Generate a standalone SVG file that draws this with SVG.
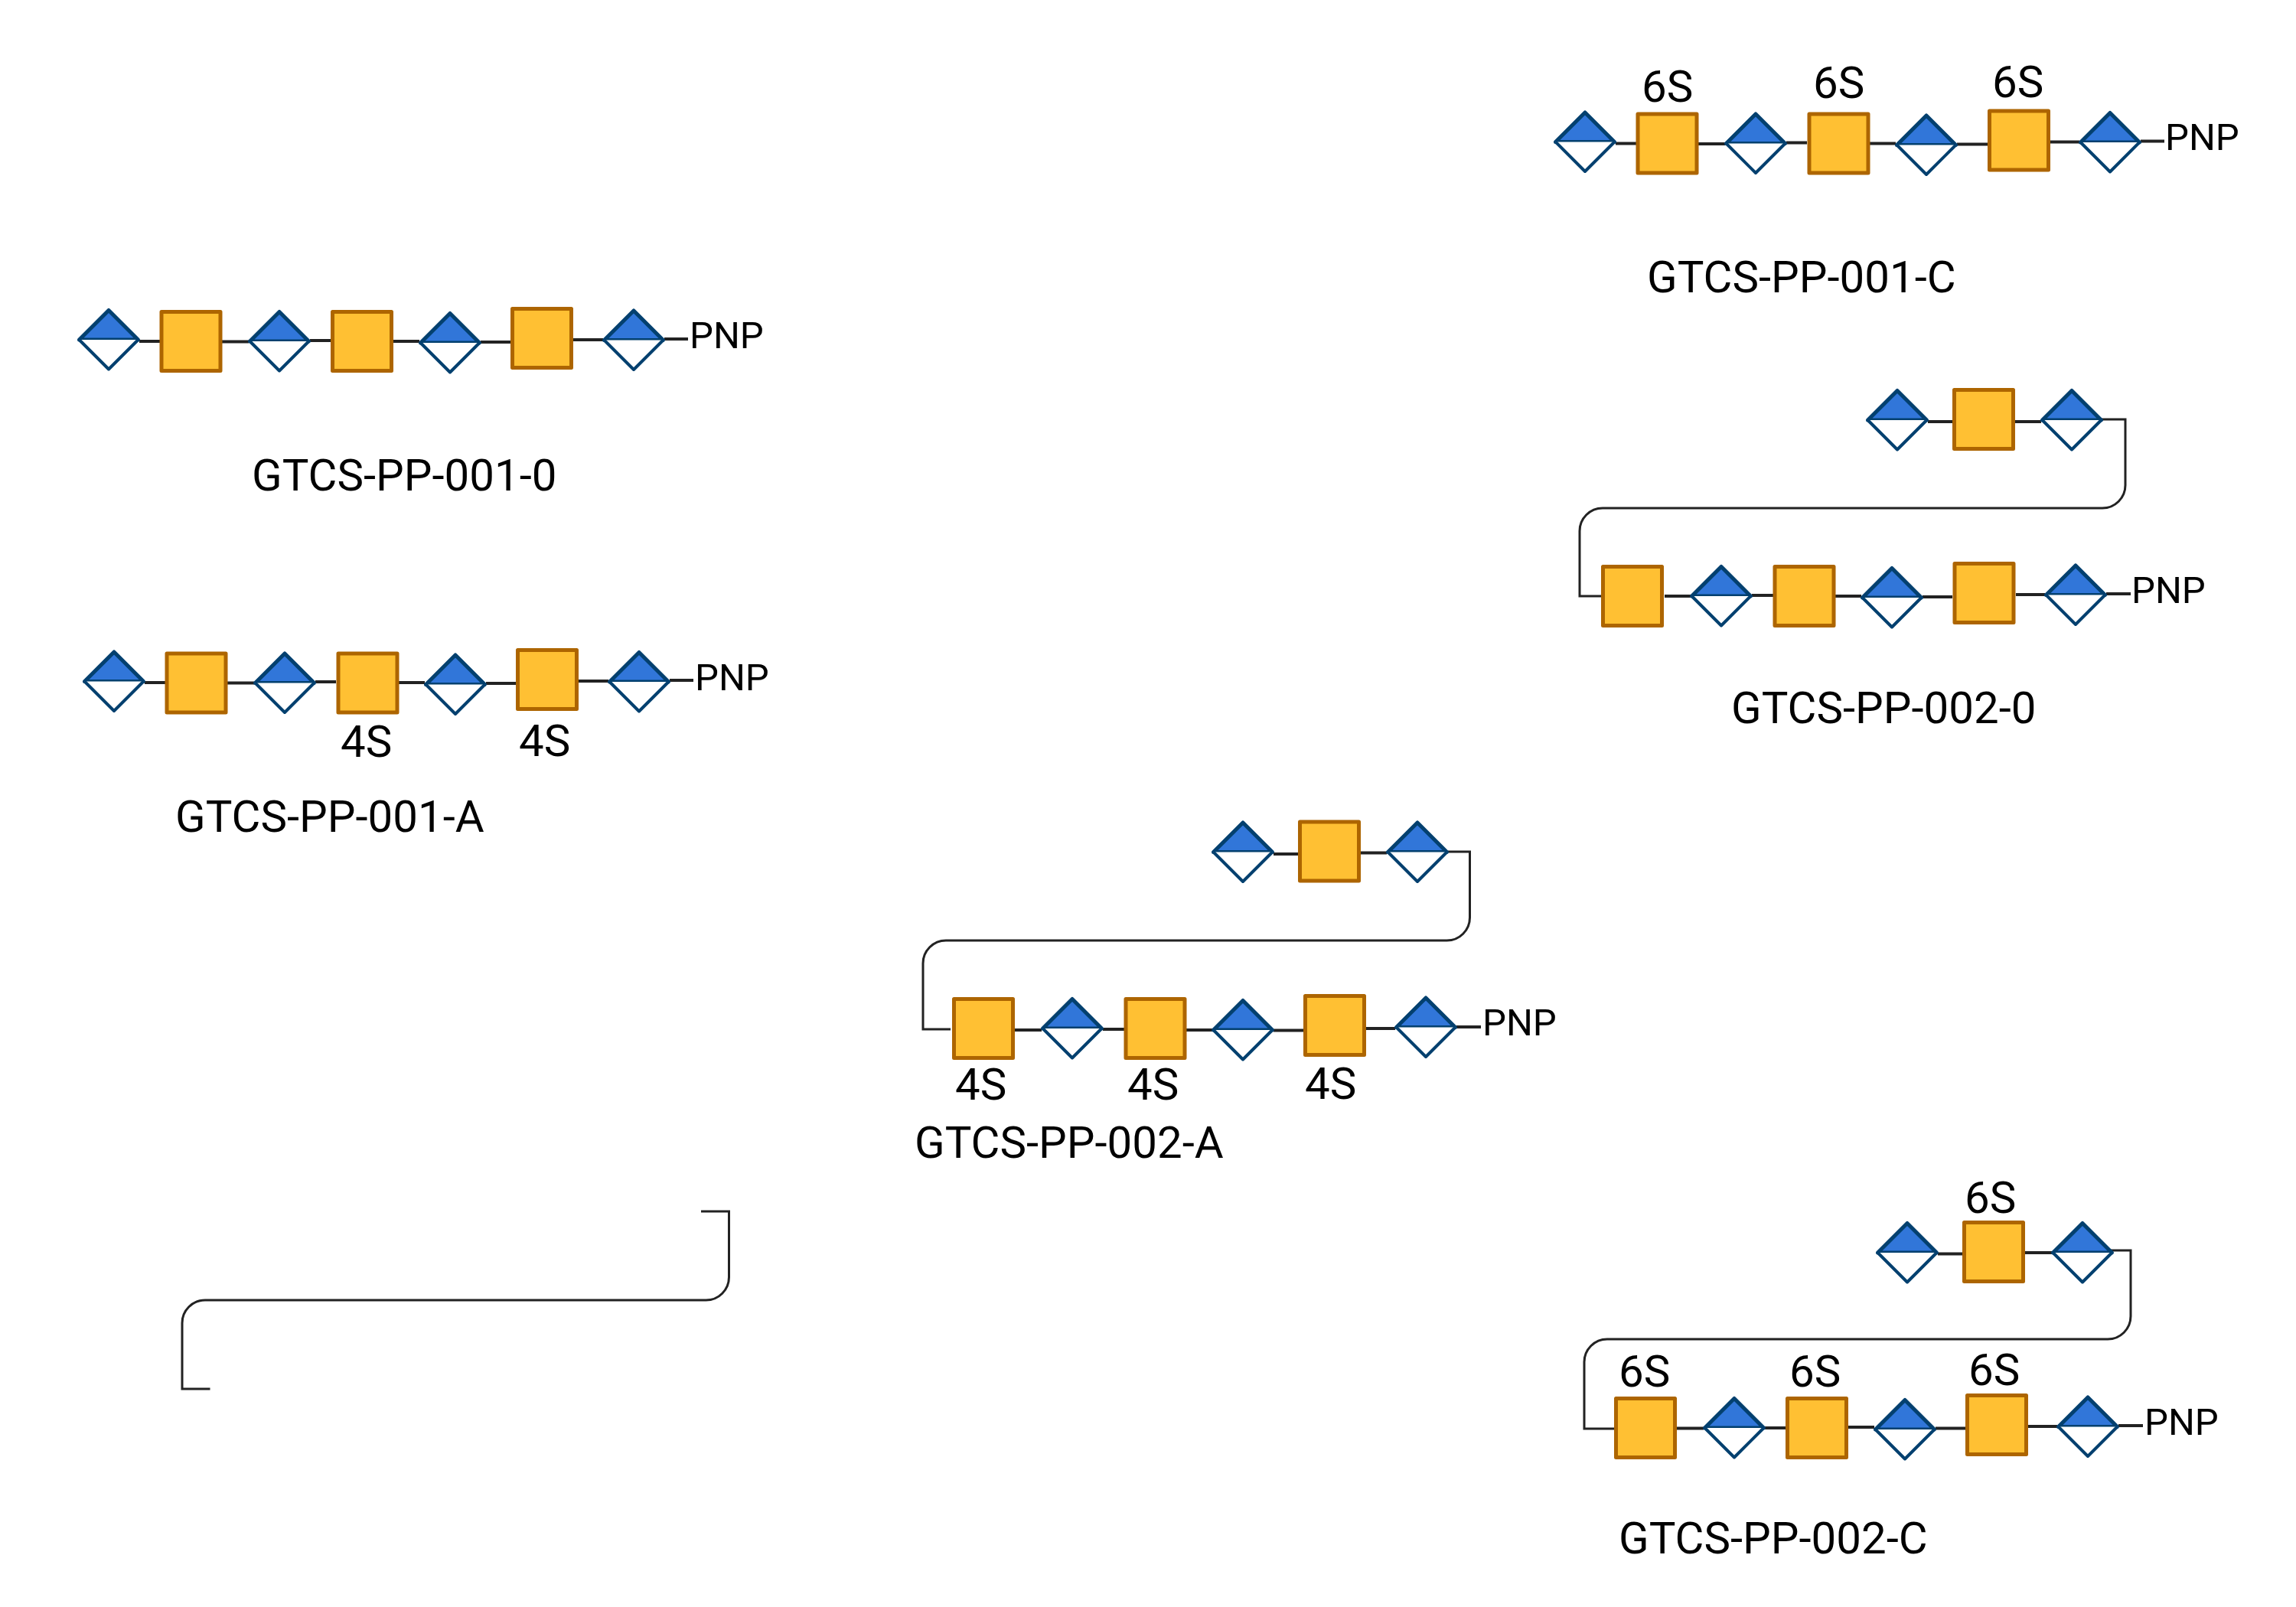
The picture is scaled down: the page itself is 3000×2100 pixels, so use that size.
<svg xmlns="http://www.w3.org/2000/svg" width="3000" height="2100" viewBox="0 0 3000 2100">
<style>
text{font-family:Roboto,"Liberation Sans",sans-serif;font-size:58.2px;fill:#000}
.pnp{font-size:49px}
.c{fill:none;stroke:#222;stroke-width:4}
.b{fill:none;stroke:#222;stroke-width:3}
</style>
<defs>
<g id="dia"><path d="M-38.5 0L0 -38.5L38.5 0Z" fill="#3176D9" stroke="#03406F" stroke-width="5" stroke-linejoin="round"/><path d="M-38.5 0L0 38.5L38.5 0" fill="#fff" stroke="#03406F" stroke-width="4" stroke-linejoin="round"/></g>
<rect id="sq" x="-38.5" y="-38.5" width="77" height="77" fill="#FFC033" stroke="#AD6500" stroke-width="5" stroke-linejoin="round"/>
</defs>
<rect width="3000" height="2100" fill="#fff"/>
<g id="connectors">
<path class="c" d="M182 446H209M290 446.5H325M405 445H432M514 446H548M628 447H667M748 444H788M868 443H899"/>
<path class="c" d="M189 892H216M297 892.5H332M412 891H439M521 892H555M635 893H674M755 890H795M875 889H906"/>
<path class="c" d="M2111 187.5H2138M2219 188H2254M2334 186.5H2361M2443 187.5H2477M2557 188.5H2597M2678 185.5H2717M2797 184.5H2828"/>
<path class="c" d="M2519 551H2551M2633 551H2667M2175 779H2209M2289 778H2317M2398 779H2432M2512 780H2551M2634 777H2672M2752 776H2784"/>
<path class="b" d="M2746 548H2777V634A30 30 0 0 1 2747 664H2094A30 30 0 0 0 2064 694V779H2092"/>
<path class="c" d="M1664 1116H1697M1778 1114.5H1812M1325 1346H1361M1441 1345H1469M1550 1346H1584M1664 1346.5H1703M1785 1344H1823M1903 1342H1935"/>
<path class="b" d="M1892 1113H1920.5V1199A30 30 0 0 1 1890.5 1229H1236A30 30 0 0 0 1206 1259V1345H1242"/>
<path class="c" d="M2532 1638.5H2565M2646 1637H2681M2190 1866.5H2226M2306 1866H2334M2415 1865H2449M2529 1866.5H2569M2650 1864H2688M2768 1863H2800"/>
<path class="b" d="M2749 1634H2784V1720A30 30 0 0 1 2754 1750H2100A30 30 0 0 0 2070 1780V1867H2109"/>
<path class="b" d="M916 1583H952.5V1669A30 30 0 0 1 922.5 1699H268A30 30 0 0 0 238 1729V1815H274.5"/>
</g>
<g id="a1-d1" transform="translate(142 444)"><use href="#dia"/></g>
<g id="a1-s1" transform="translate(249.5 446)"><use href="#sq"/></g>
<g id="a1-d2" transform="translate(365 446)"><use href="#dia"/></g>
<g id="a1-s2" transform="translate(473 446)"><use href="#sq"/></g>
<g id="a1-d3" transform="translate(588 448)"><use href="#dia"/></g>
<g id="a1-s3" transform="translate(708 442)"><use href="#sq"/></g>
<g id="a1-d4" transform="translate(828 444.5)"><use href="#dia"/></g>
<g id="b1-d1" transform="translate(149 890.5)"><use href="#dia"/></g>
<g id="b1-s1" transform="translate(256.5 892.5)"><use href="#sq"/></g>
<g id="b1-d2" transform="translate(372 892.5)"><use href="#dia"/></g>
<g id="b1-s2" transform="translate(480.5 892.5)"><use href="#sq"/></g>
<g id="b1-d3" transform="translate(595 894.5)"><use href="#dia"/></g>
<g id="b1-s3" transform="translate(715 888)"><use href="#sq"/></g>
<g id="b1-d4" transform="translate(835 891)"><use href="#dia"/></g>
<g id="c1-d1" transform="translate(2071 185.5)"><use href="#dia"/></g>
<g id="c1-s1" transform="translate(2178.5 187.5)"><use href="#sq"/></g>
<g id="c1-d2" transform="translate(2294 187.5)"><use href="#dia"/></g>
<g id="c1-s2" transform="translate(2402.5 187.5)"><use href="#sq"/></g>
<g id="c1-d3" transform="translate(2517 189.5)"><use href="#dia"/></g>
<g id="c1-s3" transform="translate(2638 183.5)"><use href="#sq"/></g>
<g id="c1-d4" transform="translate(2757 186)"><use href="#dia"/></g>
<g id="d2-d1" transform="translate(2479 549)"><use href="#dia"/></g>
<g id="d2-s1" transform="translate(2592 548)"><use href="#sq"/></g>
<g id="d2-d2" transform="translate(2707 549)"><use href="#dia"/></g>
<g id="d2-s2" transform="translate(2133 779)"><use href="#sq"/></g>
<g id="d2-d3" transform="translate(2249 779)"><use href="#dia"/></g>
<g id="d2-s3" transform="translate(2357.5 779)"><use href="#sq"/></g>
<g id="d2-d4" transform="translate(2472 781)"><use href="#dia"/></g>
<g id="d2-s4" transform="translate(2592.5 775)"><use href="#sq"/></g>
<g id="d2-d5" transform="translate(2712 777.5)"><use href="#dia"/></g>
<g id="e2-d1" transform="translate(1624 1113.5)"><use href="#dia"/></g>
<g id="e2-s1" transform="translate(1737 1112.5)"><use href="#sq"/></g>
<g id="e2-d2" transform="translate(1852 1113.5)"><use href="#dia"/></g>
<g id="e2-s2" transform="translate(1285 1344)"><use href="#sq"/></g>
<g id="e2-d3" transform="translate(1401 1344)"><use href="#dia"/></g>
<g id="e2-s3" transform="translate(1509.5 1344)"><use href="#sq"/></g>
<g id="e2-d4" transform="translate(1624 1346)"><use href="#dia"/></g>
<g id="e2-s4" transform="translate(1744 1340)"><use href="#sq"/></g>
<g id="e2-d5" transform="translate(1863 1342.5)"><use href="#dia"/></g>
<g id="f2-d1" transform="translate(2492 1637)"><use href="#dia"/></g>
<g id="f2-s1" transform="translate(2605 1636)"><use href="#sq"/></g>
<g id="f2-d2" transform="translate(2721 1637)"><use href="#dia"/></g>
<g id="f2-s2" transform="translate(2150 1866)"><use href="#sq"/></g>
<g id="f2-d3" transform="translate(2266 1866)"><use href="#dia"/></g>
<g id="f2-s3" transform="translate(2374 1866)"><use href="#sq"/></g>
<g id="f2-d4" transform="translate(2489 1868)"><use href="#dia"/></g>
<g id="f2-s4" transform="translate(2609 1862)"><use href="#sq"/></g>
<g id="f2-d5" transform="translate(2728 1864.5)"><use href="#dia"/></g>
<g id="labels">
<text class="pnp" x="901" y="455">PNP</text>
<text class="pnp" x="908" y="902">PNP</text>
<text class="pnp" x="2829" y="196">PNP</text>
<text class="pnp" x="2785" y="788">PNP</text>
<text class="pnp" x="1937" y="1353">PNP</text>
<text class="pnp" x="2802" y="1875">PNP</text>
<text x="329" y="641">GTCS-PP-001-0</text>
<text x="229" y="1087">GTCS-PP-001-A</text>
<text x="2152" y="382">GTCS-PP-001-C</text>
<text x="2262" y="945">GTCS-PP-002-0</text>
<text x="1195" y="1513">GTCS-PP-002-A</text>
<text x="2115" y="2030">GTCS-PP-002-C</text>
<text x="445" y="989">4S</text>
<text x="678" y="988">4S</text>
<text x="1248" y="1437">4S</text>
<text x="1473" y="1437">4S</text>
<text x="1705" y="1436">4S</text>
<text x="2145" y="133">6S</text>
<text x="2369" y="128">6S</text>
<text x="2603" y="127">6S</text>
<text x="2567" y="1585">6S</text>
<text x="2115" y="1812">6S</text>
<text x="2338" y="1812">6S</text>
<text x="2572" y="1810">6S</text>
</g>
</svg>
